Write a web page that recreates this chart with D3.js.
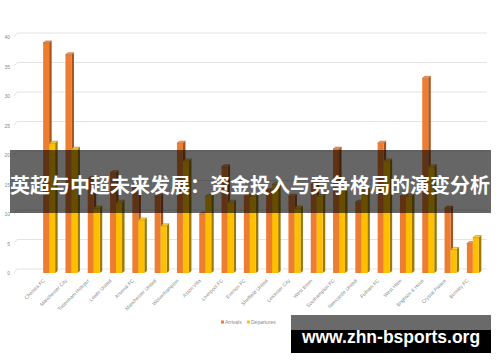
<html>
<head>
<script src='https://d3js.org/d3.v7.min.js'></script>
<style>
body { margin: 0; background: #fff; }
.axis text { font-family: "Liberation Sans", sans-serif; font-size: 5px; fill: #8a8a8a; }
.grid { stroke: #e4e4e4; stroke-width: 1px; fill: none; }
</style>
</head>
<body>
<svg id="chart" width=500 height=362></svg>
<script>
var teams = ["Chelsea FC", "Manchester City", "Tottenham Hotspur", "Leeds United", "Arsenal FC",
    "Manchester United", "Wolverhampton", "Aston Villa", "Liverpool FC", "Everton FC",
    "Sheffield United", "Leicester City", "West Brom", "Southampton FC", "Newcastle United",
    "Fulham FC", "West Ham", "Brighton & Hove", "Crystal Palace", "Burnley FC"];
var arrivals   = [39, 37, 16, 17, 15, 13, 22, 10, 18, 13, 14, 13, 15, 21, 12, 22, 13, 33, 11, 5];
var departures = [22, 21, 11, 12, 9, 8, 19, 13, 12, 13, 15, 11, 13, 14, 14, 19, 13, 18, 4, 6];
var series = ["Arrivals", "Departures"];
var yTicks = [0, 5, 10, 15, 20, 25, 30, 35, 40];

var title = "英超与中超未来发展：资金投入与竞争格局的演变分析";
var mark = "www.zhn-bsports.org";

var colors = {
    Arrivals:   {front: "#ED7D31", side: "#A9531C", top: "#F29A5C"},
    Departures: {front: "#FFC000", side: "#9E7A00", top: "#FFD04A"}
};

var chart = d3.select('svg');
var x = d3.scaleBand().domain(teams).range([39, 485]);
var x1 = d3.scaleBand().domain(series).range([x.bandwidth() / 2 - 7, x.bandwidth() / 2 + 5]);
var y = d3.scaleLinear().domain([0, 40]).range([273, 37]);
var depth = 2.5;

// back wall grid with a little perspective
yTicks.forEach(function(v) {
    chart.append('path')
        .attr('class', 'grid')
        .attr('d', 'M14,' + y(v) + 'L17,' + (y(v) - 4) + 'L487,' + (y(v) - 4));
});
var yAxis = chart.append('g').attr('class', 'axis');
yAxis.selectAll('text').data(yTicks).enter().append('text')
    .attr('x', 10).attr('y', function(d){ return y(d); })
    .attr('text-anchor', 'end').attr('dominant-baseline', 'central')
    .text(function(d){ return d; });

// 3D columns
var rows = teams.map(function(t, i){
    return {team: t, values: [{s: "Arrivals", v: arrivals[i]}, {s: "Departures", v: departures[i]}]};
});
var groups = chart.selectAll('.team').data(rows).enter().append('g')
    .attr('class', 'team')
    .attr('transform', function(d){ return 'translate(' + x(d.team) + ',0)'; });

var bars = groups.selectAll('.bar').data(function(d){ return d.values; }).enter().append('g');
bars.append('path')
    .attr('fill', function(d){ return colors[d.s].side; })
    .attr('d', function(d){
        var x0 = x1(d.s) + x1.bandwidth(), top = y(d.v), base = y(0);
        return 'M' + x0 + ',' + top + 'L' + (x0 + depth) + ',' + (top - 2) +
            'L' + (x0 + depth) + ',' + (base - 2) + 'L' + x0 + ',' + base + 'Z';
    });
bars.append('rect')
    .attr('fill', function(d){ return colors[d.s].front; })
    .attr('x', function(d){ return x1(d.s); })
    .attr('y', function(d){ return y(d.v); })
    .attr('width', x1.bandwidth())
    .attr('height', function(d){ return y(0) - y(d.v); });
bars.append('path')
    .attr('fill', function(d){ return colors[d.s].top; })
    .attr('stroke', function(d){ return colors[d.s].side; })
    .attr('stroke-width', 0.5)
    .attr('d', function(d){
        var x0 = x1(d.s), w = x1.bandwidth(), top = y(d.v);
        return 'M' + x0 + ',' + top + 'L' + (x0 + depth) + ',' + (top - 2) +
            'L' + (x0 + w + depth) + ',' + (top - 2) + 'L' + (x0 + w) + ',' + top + 'Z';
    });

// category labels
chart.append('g').attr('class', 'axis').selectAll('text').data(teams).enter().append('text')
    .attr('text-anchor', 'end')
    .attr('transform', function(d){ return 'translate(' + (x(d) + x.bandwidth() / 2 - 5) + ',281) rotate(-45)'; })
    .text(function(d){ return d; });

// legend
var legend = chart.append('g').attr('class', 'axis');
[{s: "Arrivals", lx: 221}, {s: "Departures", lx: 247}].forEach(function(l) {
    legend.append('rect').attr('x', l.lx).attr('y', 320.5).attr('width', 3).attr('height', 3)
        .attr('fill', colors[l.s].front);
    legend.append('text').attr('x', l.lx + 4).attr('y', 322).attr('dominant-baseline', 'central').text(l.s);
});

// title banner
chart.append('rect').attr('x', 10).attr('y', 150).attr('width', 481).attr('height', 63)
    .attr('fill', '#000').attr('opacity', 0.6);
chart.append('text')
    .attr('x', 250).attr('y', 184)
    .attr('text-anchor', 'middle').attr('dominant-baseline', 'central')
    .style('font-family', '"Noto Sans CJK SC", sans-serif')
    .style('font-weight', 'bold').style('font-size', '20px')
    .attr('fill', '#fff')
    .text(title);

// watermark
chart.append('rect').attr('x', 291).attr('y', 315).attr('width', 200).attr('height', 15).attr('fill', '#6a6a6a');
chart.append('rect').attr('x', 291).attr('y', 330).attr('width', 200).attr('height', 23).attr('fill', '#000');
chart.append('text')
    .attr('x', 391).attr('y', 342.5)
    .attr('text-anchor', 'middle')
    .style('font-family', '"Liberation Sans", sans-serif')
    .style('font-weight', 'bold').style('font-size', '17.5px')
    .attr('fill', '#fff')
    .text(mark);
</script>
</body>
</html>
